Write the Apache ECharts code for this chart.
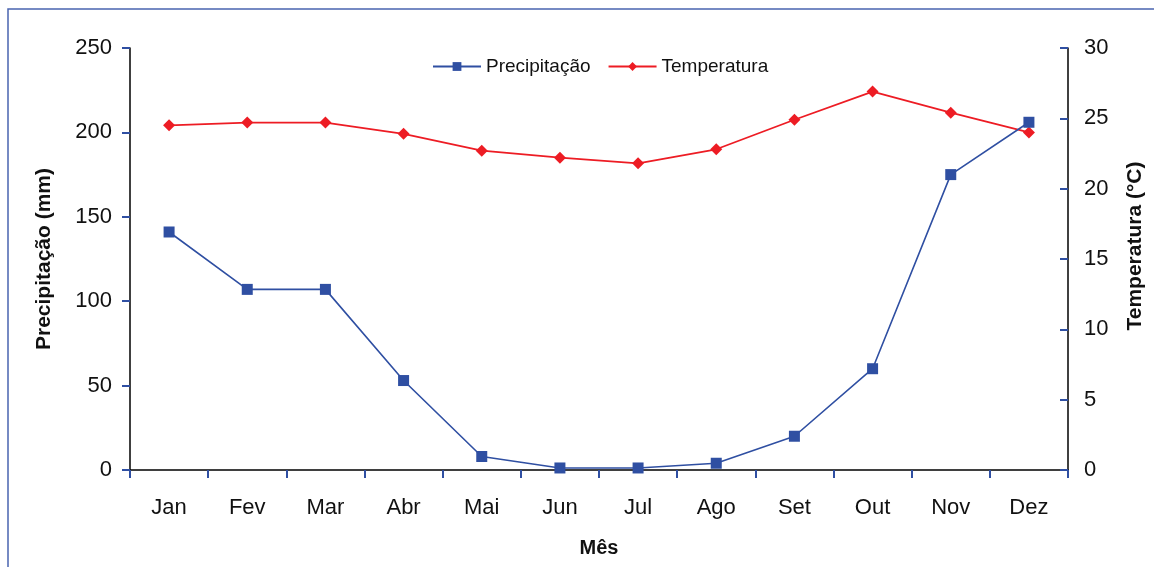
<!DOCTYPE html>
<html>
<head>
<meta charset="utf-8">
<script src="https://cdn.jsdelivr.net/npm/echarts@6/dist/echarts.min.js"></script>
<style>html,body{margin:0;padding:0;background:#fff}#c{width:1154px;height:567px}</style>
</head>
<body>
<div id="c"></div>
<script>
const months = ['Jan','Fev','Mar','Abr','Mai','Jun','Jul','Ago','Set','Out','Nov','Dez'];
const precipitacao = [141, 107, 107, 53, 8, 1.2, 1.2, 4, 20, 60, 175, 206];
const temperatura = [24.5, 24.7, 24.7, 23.9, 22.7, 22.2, 21.8, 22.8, 24.9, 26.9, 25.4, 24.0];
const precTicks = [0, 50, 100, 150, 200, 250];
const tempTicks = [0, 5, 10, 15, 20, 25, 30];

const blue = '#2F4FA2';
const red = '#ED1C24';
const font = '"Liberation Sans", Arial, sans-serif';

const chart = echarts.init(document.getElementById('c'));
chart.setOption({
  animation: false,
  backgroundColor: '#fff',
  graphic: [{
    type: 'rect', shape: {x: 8, y: 9, width: 1160, height: 580},
    style: {fill: 'none', stroke: '#4A64B0', lineWidth: 1.5}, silent: true
  }],
  legend: {
    top: 52, left: 427, itemGap: 17, itemWidth: 48, itemHeight: 11,
    textStyle: {fontFamily: font, fontSize: 19, color: '#111'},
    data: ['Precipitação', 'Temperatura']
  },
  grid: {left: 130, right: 84, top: 48, bottom: 97, containLabel: false},
  xAxis: {
    type: 'category', data: months, boundaryGap: true,
    name: 'Mês', nameLocation: 'middle', nameGap: 68,
    nameTextStyle: {fontFamily: font, fontSize: 20, fontWeight: 'bold', color: '#111'},
    axisLine: {lineStyle: {color: '#000', width: 1.5}},
    axisTick: {show: true, length: 8, inside: false, lineStyle: {color: blue, width: 2}},
    axisLabel: {fontFamily: font, fontSize: 22, color: '#111', margin: 27}
  },
  yAxis: [{
    type: 'value', min: 0, max: 250, interval: 50, position: 'left',
    name: 'Precipitação (mm)', nameLocation: 'middle', nameGap: 75, nameRotate: 90,
    nameTextStyle: {fontFamily: font, fontSize: 21, fontWeight: 'bold', color: '#111'},
    axisLine: {show: true, lineStyle: {color: '#000', width: 1.5}},
    axisTick: {show: true, length: 8, lineStyle: {color: blue, width: 2}},
    axisLabel: {fontFamily: font, fontSize: 22, color: '#111', margin: 18,
      formatter: v => precTicks.includes(v) ? String(v) : ''},
    splitLine: {show: false}
  }, {
    type: 'value', min: 0, max: 30, interval: 5, position: 'right',
    name: 'Temperatura (°C)', nameLocation: 'middle', nameGap: 57, nameRotate: 90,
    nameTextStyle: {fontFamily: font, fontSize: 21, fontWeight: 'bold', color: '#111', padding: [0, 0, 0, 26]},
    axisLine: {show: true, lineStyle: {color: '#000', width: 1.5}},
    axisTick: {show: true, length: 8, inside: true, lineStyle: {color: blue, width: 2}},
    axisLabel: {fontFamily: font, fontSize: 22, color: '#111', margin: 16,
      formatter: v => tempTicks.includes(v) ? String(v) : ''},
    splitLine: {show: false}
  }],
  series: [{
    name: 'Precipitação', type: 'line', yAxisIndex: 0, data: precipitacao,
    symbol: 'rect', symbolSize: 11, z: 3,
    lineStyle: {color: blue, width: 1.6}, itemStyle: {color: blue}
  }, {
    name: 'Temperatura', type: 'line', yAxisIndex: 1, data: temperatura,
    symbol: 'diamond', symbolSize: 12, z: 2,
    lineStyle: {color: red, width: 1.8}, itemStyle: {color: red}
  }]
});
</script>
</body>
</html>
